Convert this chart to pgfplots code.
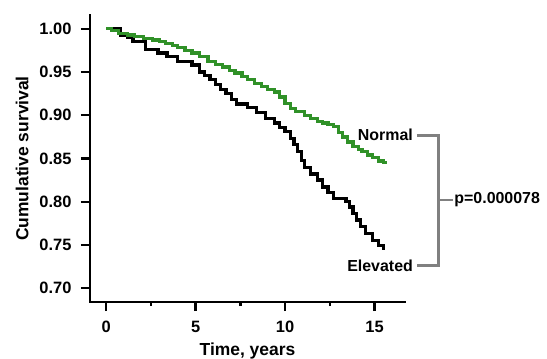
\documentclass[border=0pt]{standalone}
\usepackage{pgfplots}
\pgfplotsset{compat=1.18}
\usepackage{fontspec}
\setmainfont{Liberation Sans}
\definecolor{kmgreen}{RGB}{48,145,40}
\definecolor{brgray}{RGB}{128,128,128}
\begin{document}
\begin{tikzpicture}
\begin{axis}[
  scale only axis,
  width=315bp, height=287bp,
  xmin=-0.9, xmax=16.7,
  ymin=0.684, ymax=1.016,
  axis x line*=bottom, axis y line*=left,
  axis line style={line width=3pt, line cap=rect},
  xtick={0,5,10,15},
  minor xtick={2.5,7.5,12.5},
  ytick={0.70,0.75,0.80,0.85,0.90,0.95,1.00},
  yticklabel style={xshift=-6bp, /pgf/number format/.cd, fixed, fixed zerofill, precision=2},
  /pgf/number format/assume math mode=true,
  tick align=outside,
  major tick length=9bp,
  minor tick length=4bp,
  tick style={line width=2.4pt, black},
  ticklabel style={font=\fontsize{16.5}{19}\selectfont\bfseries},
  xticklabel style={yshift=-7bp},
  xlabel={Time, years},
  ylabel={Cumulative survival},
  label style={font=\fontsize{17.5}{20}\selectfont\bfseries},
  xlabel style={yshift=-3bp},
  ylabel style={yshift=4bp},
  clip=false,
]
\addplot[const plot, black, line width=3.3pt] coordinates {
(0,1.000) (0.8,0.993) (1.2,0.990) (1.5,0.985) (2.2,0.976) (2.9,0.972)
(3.4,0.968) (4.0,0.962) (4.8,0.958) (5.2,0.950) (5.5,0.946) (5.8,0.941)
(6.1,0.936) (6.4,0.930) (6.7,0.925) (7.0,0.918) (7.3,0.913) (7.9,0.909)
(8.4,0.903) (8.9,0.896) (9.4,0.891) (9.7,0.886) (10.0,0.881) (10.3,0.873)
(10.5,0.866) (10.7,0.858) (10.9,0.848) (11.1,0.840) (11.4,0.832) (11.8,0.825)
(12.1,0.817) (12.4,0.811) (12.7,0.804) (13.4,0.800) (13.6,0.794) (13.8,0.786)
(14.0,0.779) (14.2,0.771) (14.5,0.763) (14.9,0.755) (15.2,0.749) (15.5,0.746)
(15.6,0.746)
};
\addplot[const plot, kmgreen, line width=3.3pt] coordinates {
(0,1.000) (0.3,0.998) (0.7,0.995) (1.2,0.993) (1.6,0.991) (2.1,0.989)
(2.6,0.987) (3.0,0.985) (3.3,0.983) (3.7,0.981) (4.0,0.978) (4.4,0.975)
(4.8,0.972) (5.2,0.968) (5.7,0.962) (6.1,0.959) (6.5,0.956) (6.9,0.952)
(7.2,0.949) (7.6,0.945) (7.9,0.941) (8.3,0.937) (8.7,0.933) (9.0,0.930)
(9.4,0.927) (9.7,0.921) (10.0,0.914) (10.3,0.908) (10.6,0.904) (11.1,0.900)
(11.4,0.896) (11.8,0.893) (12.1,0.891) (12.4,0.889) (12.7,0.887) (13.0,0.880)
(13.2,0.875) (13.5,0.869) (13.8,0.864) (14.1,0.860) (14.3,0.858) (14.6,0.854)
(14.9,0.851) (15.2,0.847) (15.5,0.845) (15.6,0.844)
};
\node[anchor=east, inner sep=0pt, font=\fontsize{16}{19}\selectfont\bfseries] at (axis cs:17.15,0.877) {Normal};
\node[anchor=east, inner sep=0pt, font=\fontsize{16}{19}\selectfont\bfseries] at (axis cs:17.15,0.726) {Elevated};
\draw[brgray, line width=3pt] (axis cs:17.37,0.877) -- (axis cs:18.55,0.877) -- (axis cs:18.55,0.726) -- (axis cs:17.37,0.726);
\draw[brgray, line width=3pt] (axis cs:18.55,0.802) -- (axis cs:19.39,0.802);
\node[anchor=west, inner sep=0pt, font=\fontsize{16}{19}\selectfont\bfseries] at (axis cs:19.45,0.802) {p=0.000078};
\end{axis}
\pgfresetboundingbox
\path[use as bounding box] ([shift={(-90bp,-57bp)}]current axis.south west) rectangle ([shift={(142bp,15bp)}]current axis.north east);
\end{tikzpicture}
\end{document}
